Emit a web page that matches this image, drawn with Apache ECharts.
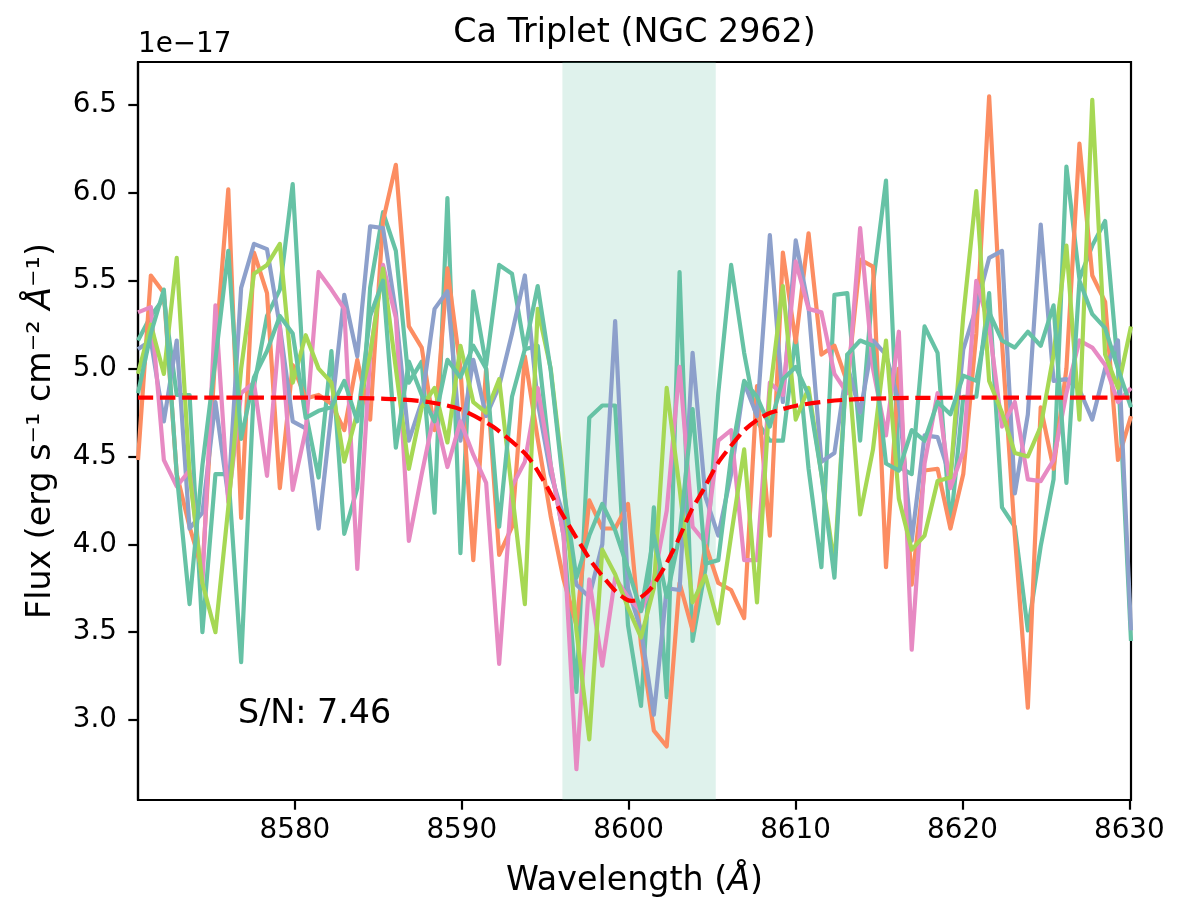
<!DOCTYPE html>
<html>
<head>
<meta charset="utf-8">
<script src="https://cdn.jsdelivr.net/npm/echarts@6/dist/echarts.min.js"></script>
<style>
html,body{margin:0;padding:0;background:#ffffff;}
#chart{width:1181px;height:923px;}
</style>
</head>
<body>
<div id="chart"></div>
<script>
// ---- data (flux in units of 1e-17 erg s^-1 cm^-2 A^-1) ----
const wavelength = [8570.60,8571.37,8572.15,8572.92,8573.69,8574.46,8575.24,8576.01,8576.78,8577.55,
8578.33,8579.10,8579.87,8580.65,8581.42,8582.19,8582.96,8583.74,8584.51,8585.28,
8586.05,8586.83,8587.60,8588.37,8589.14,8589.92,8590.69,8591.46,8592.24,8593.01,
8593.78,8594.55,8595.33,8596.10,8596.87,8597.64,8598.42,8599.19,8599.96,8600.74,
8601.51,8602.28,8603.05,8603.83,8604.60,8605.37,8606.14,8606.92,8607.69,8608.46,
8609.24,8610.01,8610.78,8611.55,8612.33,8613.10,8613.87,8614.64,8615.42,8616.19,
8616.96,8617.73,8618.51,8619.28,8620.05,8620.83,8621.60,8622.37,8623.14,8623.92,
8624.69,8625.46,8626.23,8627.01,8627.78,8628.55,8629.32,8630.10];

const fluxTeal1 = [5.16,5.30,5.40,4.85,4.85,3.50,4.40,4.40,3.33,4.90,
5.30,5.45,6.05,4.75,4.38,5.10,4.06,4.32,5.46,5.89,
5.67,4.92,5.04,4.18,5.97,3.95,5.44,5.02,5.59,5.54,
5.11,5.13,4.45,4.05,3.16,4.72,4.79,4.79,3.54,3.08,
4.21,3.13,5.55,3.45,3.86,4.86,5.59,5.09,4.70,4.59,
4.59,5.19,4.43,3.87,5.42,5.43,4.59,5.48,6.07,4.44,
4.40,5.24,5.09,4.10,4.84,4.84,5.43,4.21,4.10,3.51,
3.99,4.37,6.15,5.51,5.70,5.84,5.00,3.45];

const fluxOrange = [4.48,5.53,5.43,4.40,4.10,3.85,5.10,6.02,4.15,5.66,
5.43,4.32,5.02,4.83,4.85,4.80,4.65,5.05,4.71,5.84,
6.16,5.24,5.12,4.65,5.57,5.00,3.91,5.00,3.94,4.10,
5.07,4.60,4.16,3.80,3.54,4.25,4.09,4.09,4.23,3.43,
2.94,2.85,3.78,3.51,4.00,3.78,3.74,3.58,4.90,4.05,
5.66,5.15,5.77,5.08,5.13,4.92,5.62,5.58,3.87,5.00,
3.77,4.42,4.43,4.09,4.40,5.20,6.55,5.15,4.05,3.07,
4.78,4.43,5.00,6.28,5.53,5.38,4.48,4.73];

const fluxBlue = [5.11,5.16,4.70,5.16,4.09,4.18,4.81,4.27,5.46,5.71,
5.68,5.24,4.70,4.66,4.09,4.75,5.42,5.07,5.81,5.80,
5.32,4.59,4.81,5.34,5.44,4.59,5.05,4.73,4.90,5.20,
5.53,4.81,4.40,4.16,3.77,3.70,4.00,5.27,3.75,3.51,
3.03,3.75,3.74,5.09,4.27,4.05,4.40,4.92,4.73,5.76,
4.81,5.73,5.35,4.47,4.52,5.02,4.75,5.16,5.08,4.81,
4.02,4.62,4.61,4.38,5.11,5.35,5.63,5.67,4.29,4.74,
5.82,4.93,4.94,4.88,4.71,5.00,5.16,3.51];

const fluxPink = [5.32,5.35,4.48,4.33,4.42,3.78,5.36,4.24,4.86,4.92,
4.39,5.24,4.31,4.65,5.55,5.45,5.34,3.86,5.08,5.59,
5.29,4.02,4.40,4.75,4.44,4.70,4.51,4.35,3.32,4.33,
4.47,4.89,4.45,4.05,2.72,3.80,3.31,3.81,3.70,3.62,
3.80,4.19,5.01,4.10,4.01,4.59,4.65,3.91,3.91,4.92,
4.85,5.61,5.34,5.32,4.97,4.86,5.80,5.00,4.62,5.21,
3.40,4.46,4.86,4.32,4.53,5.50,5.24,4.67,4.81,4.37,
4.36,4.48,4.86,5.16,5.12,5.02,4.81,4.89];

const fluxLime = [4.97,5.25,4.97,5.63,4.40,3.78,3.50,4.21,5.00,5.54,
5.59,5.71,4.92,5.19,5.00,4.92,4.47,4.75,5.08,5.57,
5.00,4.43,4.78,4.89,4.58,5.13,4.81,4.75,4.94,4.30,
3.66,5.34,5.00,4.37,3.51,2.89,3.97,3.83,3.64,3.47,
3.75,4.89,4.32,3.67,3.82,3.55,4.05,4.54,3.67,4.86,
5.47,4.71,4.89,4.40,3.88,5.08,4.17,4.54,5.16,4.26,
3.97,4.05,4.36,4.38,5.30,6.01,4.93,4.75,4.52,4.50,
4.67,5.08,5.70,4.71,6.53,5.08,4.89,5.24];

const fluxTeal2 = [4.86,5.20,5.45,4.40,3.66,4.45,5.05,5.67,4.60,4.95,
5.10,5.30,5.20,4.72,4.76,4.78,4.93,4.70,5.30,5.50,
4.55,5.04,4.85,4.70,5.05,4.95,5.13,5.00,4.10,4.84,
5.11,5.47,4.99,4.32,3.81,4.05,4.23,4.08,3.86,3.62,
4.05,3.70,4.05,4.77,3.89,3.91,4.50,4.93,4.84,4.67,
4.94,5.01,4.85,4.40,3.81,5.08,5.16,5.13,4.46,4.42,
4.65,4.59,4.81,4.74,4.96,4.93,5.32,5.16,5.12,5.21,
5.13,5.36,4.35,5.50,5.31,5.23,5.00,4.78];

const modelWavelength = [8570.6,8580,8584,8586,8588,8589.86,8591.86,8593.86,8594.85,8595.85,
8596.85,8597.85,8598.6,8599.25,8599.88,8600.2,8600.54,8601.34,8602.14,8602.94,
8603.74,8604.53,8605.33,8606.13,8606.93,8607.73,8608.53,8610.1,8612,8614,8618,8630.1];
const modelFlux = [4.835,4.835,4.832,4.826,4.81,4.77,4.67,4.51,4.37,4.20,
4.04,3.89,3.80,3.73,3.685,3.678,3.685,3.75,3.87,4.02,
4.19,4.32,4.46,4.56,4.65,4.71,4.75,4.79,4.815,4.828,4.834,4.835];

const bandRange = [8596.03, 8605.22];
const xTicks = [8580, 8590, 8600, 8610, 8620, 8630];
const yTicks = [3.0, 3.5, 4.0, 4.5, 5.0, 5.5, 6.0, 6.5];
const titleText = 'Ca Triplet (NGC 2962)';
const snText = 'S/N: 7.46';
const offsetText = '1e\u221217';

// ---- chart ----
const FONT = 'DejaVu Sans';
const chart = echarts.init(document.getElementById('chart'), null, {renderer: 'canvas'});
function pairs(xs, ys) { return xs.map((x, i) => [x, ys[i]]); }

const spectra = [
  {name: 'spec1', color: '#66c2a5', values: fluxTeal1},
  {name: 'spec2', color: '#fc8d62', values: fluxOrange},
  {name: 'spec3', color: '#8da0cb', values: fluxBlue},
  {name: 'spec4', color: '#e78ac3', values: fluxPink},
  {name: 'spec5', color: '#a6d854', values: fluxLime},
  {name: 'spec6', color: '#66c2a5', values: fluxTeal2}
];

const series = [{
  type: 'line', name: 'band', data: [], z: 1, silent: true,
  markArea: {
    silent: true,
    itemStyle: {color: 'rgba(102,194,165,0.21)'},
    data: [[{xAxis: bandRange[0]}, {xAxis: bandRange[1]}]]
  }
}];
spectra.forEach((s, k) => {
  series.push({
    type: 'line', name: s.name, data: pairs(wavelength, s.values),
    symbol: 'none', showSymbol: false, silent: true, z: 3 + k,
    lineStyle: {color: s.color, width: 4.2, join: 'round', cap: 'butt'},
    itemStyle: {color: s.color}
  });
});
series.push({
  type: 'line', name: 'model', data: pairs(modelWavelength, modelFlux),
  symbol: 'none', showSymbol: false, silent: true, z: 20, smooth: 0.25,
  lineStyle: {color: '#ff0000', width: 4.2, type: [15.4, 6.7]},
  itemStyle: {color: '#ff0000'}
});

const axisCommon = {
  axisLine: {show: true, onZero: false, lineStyle: {color: '#000', width: 2.2}},
  splitLine: {show: false}
};

const option = {
  animation: false,
  backgroundColor: '#ffffff',
  grid: {left: 138, right: 50, top: 62, bottom: 123, show: true,
         borderColor: '#000', borderWidth: 2.2, backgroundColor: 'transparent'},
  xAxis: Object.assign({
    type: 'value', min: 8570.6, max: 8630.1,
    axisTick: {show: true, customValues: xTicks, length: 9.7, lineStyle: {color: '#000', width: 2.2}},
    axisLabel: {customValues: xTicks, margin: 17, color: '#000', fontFamily: FONT, fontSize: 27.8,
                formatter: v => String(Math.round(v))}
  }, axisCommon),
  yAxis: Object.assign({
    type: 'value', min: 2.545, max: 6.745,
    axisTick: {show: true, customValues: yTicks, length: 9.7, lineStyle: {color: '#000', width: 2.2}},
    axisLabel: {customValues: yTicks, margin: 21, color: '#000', fontFamily: FONT, fontSize: 27.8,
                formatter: v => Number(v).toFixed(1)}
  }, axisCommon),
  series: series,
  graphic: [
    {type: 'text', x: 634.5, y: 33, silent: true,
     style: {text: titleText, fontFamily: FONT, fontSize: 33.3, fill: '#000',
             align: 'center', verticalAlign: 'middle', textAlign: 'center', textVerticalAlign: 'middle'}},
    {type: 'text', x: 138, y: 45, silent: true,
     style: {text: offsetText, fontFamily: FONT, fontSize: 27.8, fill: '#000',
             align: 'left', verticalAlign: 'middle', textAlign: 'left', textVerticalAlign: 'middle'}},
    {type: 'text', x: 238, y: 714, silent: true, z: 50,
     style: {text: snText, fontFamily: FONT, fontSize: 33.3, fill: '#000',
             align: 'left', verticalAlign: 'middle', textAlign: 'left', textVerticalAlign: 'middle'}},
    {type: 'text', x: 634.5, y: 881, silent: true,
     style: {text: 'Wavelength ({i|Å})', fontFamily: FONT, fontSize: 33.3, fill: '#000',
             rich: {i: {fontFamily: FONT, fontSize: 33.3, fontStyle: 'italic', fill: '#000'}},
             align: 'center', verticalAlign: 'middle', textAlign: 'center', textVerticalAlign: 'middle'}},
    {type: 'text', x: 41, y: 431, rotation: Math.PI / 2, silent: true,
     style: {text: 'Flux (erg s\u207B\u00B9 cm\u207B\u00B2 {i|Å}\u207B\u00B9)', fontFamily: FONT, fontSize: 33.3, fill: '#000',
             rich: {i: {fontFamily: FONT, fontSize: 33.3, fontStyle: 'italic', fill: '#000'}},
             align: 'center', verticalAlign: 'middle', textAlign: 'center', textVerticalAlign: 'middle'}}
  ]
};
chart.setOption(option);
</script>
</body>
</html>
